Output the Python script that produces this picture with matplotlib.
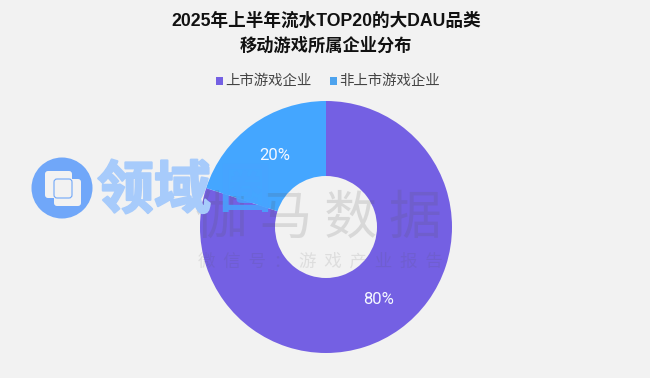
import matplotlib
matplotlib.use('Agg')
import matplotlib.pyplot as plt
import matplotlib.patheffects as pe
from matplotlib.patches import Circle, FancyBboxPatch, Rectangle

plt.rcParams['font.family'] = ['Noto Sans CJK SC', 'DejaVu Sans']

categories = ['上市游戏企业', '非上市游戏企业']
values = [80, 20]
colors = ['#7460E3', '#44A6FF']
title_lines = ['2025年上半年流水TOP20的大DAU品类', '移动游戏所属企业分布']

W, H = 650, 378
BG = '#F2F2F2'
fig = plt.figure(figsize=(W / 100, H / 100), dpi=100, facecolor=BG)

cx, cy, R = 326, 227, 126
ax = fig.add_axes([(cx - R) / W, 1 - (cy + R) / H, 2 * R / W, 2 * R / H])
wedges, _ = ax.pie(values, colors=colors, startangle=90, counterclock=False, radius=1,
                   wedgeprops=dict(width=1 - 51 / 126, linewidth=0))
ax.set_xlim(-1, 1); ax.set_ylim(-1, 1)

# overlay in pixel coordinates
ov = fig.add_axes([0, 0, 1, 1], facecolor='none')
ov.set_xlim(0, W); ov.set_ylim(H, 0); ov.axis('off')

title_family = ['Liberation Sans', 'Noto Sans CJK SC']
ov.text(326, 21.5, title_lines[0], fontsize=12.7, fontweight='bold', color='#111111',
        ha='center', va='center', fontfamily=title_family)
ov.text(325.5, 45.5, title_lines[1], fontsize=12.4, fontweight='bold', color='#111111',
        ha='center', va='center', fontfamily=title_family)

# legend
ov.add_patch(Rectangle((216, 77), 7, 8, color=colors[0], lw=0))
ov.text(225, 81, categories[0], fontsize=10.4, color='#444444', ha='left', va='center')
ov.add_patch(Rectangle((330, 77), 7, 8, color='#4DA3EE', lw=0))
ov.text(339, 81, categories[1], fontsize=10.4, color='#444444', ha='left', va='center')

# watermarks
ov.text(318, 218, '伽 马 数 据', fontsize=38, fontweight='light', color='#555555', alpha=0.16,
        ha='center', va='center')
ov.text(320, 262, '微  信  号  ：  游  戏  产  业  报  告', fontsize=12.6, color='#555555', alpha=0.13,
        ha='center', va='center')

# logo
logo = '#70A7F9'
ov.add_patch(Circle((62, 188), 30.5, color=logo, lw=0))
ov.add_patch(FancyBboxPatch((45, 171), 27, 27, boxstyle='round,pad=0,rounding_size=3', fc='#F2F2F2', ec='none'))
ov.add_patch(FancyBboxPatch((54, 179), 27, 27, boxstyle='round,pad=0,rounding_size=3', fc='#F2F2F2', ec='none'))
ov.add_patch(FancyBboxPatch((54, 179), 18, 19, boxstyle='round,pad=0,rounding_size=3', fc='none', ec=logo, lw=0.8))
t1 = ov.text(97, 191, '领域', fontsize=41, fontweight='bold', color='#A7CBFB', ha='left', va='center')
t1.set_path_effects([pe.withStroke(linewidth=1.5, foreground='#A7CBFB')])
t2 = ov.text(245, 191, '圈', fontsize=38, fontweight='bold', color='#47A4FF', alpha=0.85, ha='center', va='center')

# value labels on top of the watermarks
ov.text(274.5, 156, f'{values[1]}%', color='#F4F8FF', fontsize=12, ha='center', va='center',
        fontfamily=['Roboto', 'DejaVu Sans'])
ov.text(379, 299.5, f'{values[0]}%', color='#F4F8FF', fontsize=12, ha='center', va='center',
        fontfamily=['Roboto', 'DejaVu Sans'])

fig.savefig('out.png', dpi=100, facecolor=BG)
